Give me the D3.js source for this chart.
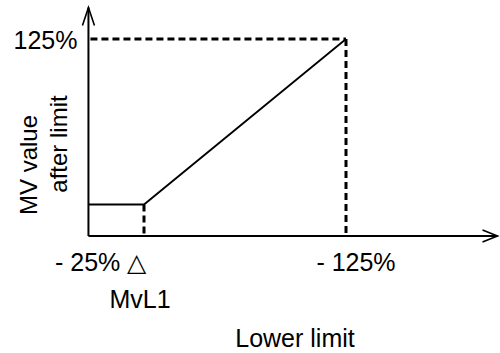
<!DOCTYPE html>
<html>
<head>
<meta charset="utf-8">
<script src="https://cdn.jsdelivr.net/npm/d3@7/dist/d3.min.js"></script>
<style>
  html, body { margin: 0; padding: 0; background: #fff; }
  text { font-family: "Liberation Sans", Arial, sans-serif; fill: #000; }
</style>
</head>
<body>
<svg id="chart" width="500" height="353"></svg>
<script>
// ---- data ----
const xAxisRange = [-2.5, 200];     // lower limit magnitude (%), axis extent
const yAxisRange = [0, 145];        // MV value after limit (%), axis extent
const lowLimit = 25;                // MvL1 (-25%)
const highLimit = 125;              // -125%
const mvLow = 20;                   // MV value held below MvL1
const mvHigh = 125;                 // 125%
const xTickLabels = ["- 25% \u25B3", "- 125%"];
const yTickLabels = ["125%"];
const xTitle = "Lower limit";
const yTitleLines = ["MV value", "after limit"];
const markerLabel = "MvL1";

// ---- scales ----
const x = d3.scaleLinear().domain([lowLimit, highLimit]).range([144, 346]);
const y = d3.scaleLinear().domain([0, mvHigh]).range([236, 39]);

const svg = d3.select("#chart");
const x0 = x(xAxisRange[0]), y0 = y(yAxisRange[0]);
const xEnd = x(xAxisRange[1]), yEnd = y(yAxisRange[1]);

// axes with open arrowheads
const axes = svg.append("g").attr("stroke", "#000").attr("stroke-width", 2).attr("fill", "none");
axes.append("line").attr("x1", x0).attr("y1", y0).attr("x2", x0).attr("y2", yEnd);
axes.append("polyline").attr("points", `${x0-6},${yEnd+18} ${x0},${yEnd} ${x0+6},${yEnd+18}`).attr("stroke-width", 1.6);
axes.append("line").attr("x1", x0).attr("y1", y0).attr("x2", xEnd).attr("y2", y0);
axes.append("polyline").attr("points", `${xEnd-15},${y0-6} ${xEnd},${y0} ${xEnd-15},${y0+6}`).attr("stroke-width", 1.6);

// dashed guides
const dash = svg.append("g").attr("stroke", "#000").attr("stroke-width", 3)
  .attr("stroke-dasharray", "7,4").attr("fill", "none");
dash.append("line").attr("x1", x0 + 2).attr("y1", y(mvHigh)).attr("x2", x(highLimit)).attr("y2", y(mvHigh));
dash.append("line").attr("x1", x(highLimit)).attr("y1", y(mvHigh)).attr("x2", x(highLimit)).attr("y2", y0);
dash.append("line").attr("x1", x(lowLimit)).attr("y1", y(mvLow)).attr("x2", x(lowLimit)).attr("y2", y0);

// characteristic line
const pts = [[xAxisRange[0], mvLow], [lowLimit, mvLow], [highLimit, mvHigh]];
svg.append("path")
  .attr("d", d3.line().x(d => x(d[0])).y(d => y(d[1]))(pts))
  .attr("fill", "none").attr("stroke", "#000").attr("stroke-width", 1.8);

// labels
const fs = 25;
svg.append("text").attr("x", x0 - 11).attr("y", y(mvHigh) + 10).attr("font-size", fs)
  .attr("text-anchor", "end").text(yTickLabels[0]);
svg.append("text").attr("x", x(lowLimit) - 89).attr("y", 271).attr("font-size", fs)
  .text(xTickLabels[0]);
svg.append("text").attr("x", x(highLimit) + 10).attr("y", 271).attr("font-size", fs)
  .attr("text-anchor", "middle").text(xTickLabels[1]);
svg.append("text").attr("x", x(lowLimit) - 4).attr("y", 308).attr("font-size", fs)
  .attr("text-anchor", "middle").text(markerLabel);
svg.append("text").attr("x", 295).attr("y", 347).attr("font-size", fs)
  .attr("text-anchor", "middle").text(xTitle);
svg.append("text").attr("transform", "translate(37,165) rotate(-90)").attr("font-size", 24)
  .attr("text-anchor", "middle").text(yTitleLines[0]);
svg.append("text").attr("transform", "translate(67,144) rotate(-90)").attr("font-size", 24)
  .attr("text-anchor", "middle").text(yTitleLines[1]);
</script>
</body>
</html>
